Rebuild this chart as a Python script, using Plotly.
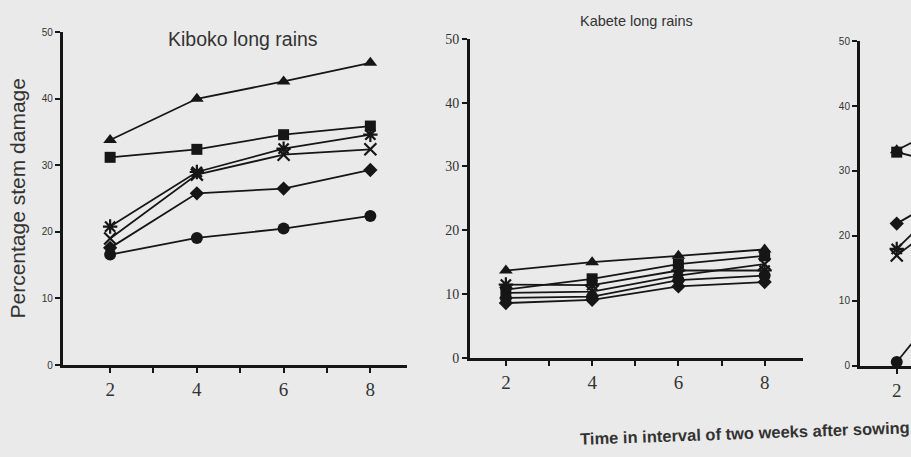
import plotly.graph_objects as go

weeks = [2, 4, 6, 8]
tick_vals = [2, 3, 4, 5, 6, 7, 8]
tick_text = ["2", "", "4", "", "6", "", "8"]
y_ticks = [0, 10, 20, 30, 40, 50]

# Kiboko long rains
kib_triangle = [33.8, 40.0, 42.6, 45.4]
kib_square = [31.2, 32.4, 34.6, 35.9]
kib_asterisk = [20.8, 29.0, 32.5, 34.6]
kib_x = [19.0, 28.6, 31.6, 32.4]
kib_diamond = [17.6, 25.8, 26.5, 29.3]
kib_circle = [16.6, 19.1, 20.5, 22.4]

# Kabete long rains
kab_triangle = [13.7, 15.0, 16.0, 17.0]
kab_square = [10.7, 12.4, 14.7, 16.0]
kab_asterisk = [11.5, 11.4, 13.7, 13.7]
kab_x = [10.2, 10.4, 12.9, 14.7]
kab_diamond = [8.6, 9.1, 11.2, 11.9]
kab_circle = [9.4, 9.6, 12.2, 12.9]

# Third (cropped) panel: only the first point is visible
p3_triangle = [33.2, 40.0]
p3_square = [32.9, 29.5]
p3_asterisk = [18.0, 31.0]
p3_x = [17.0, 27.0]
p3_diamond = [21.9, 29.6]
p3_circle = [0.6, 17.0]

INK = "#161616"
BG = "#eaeaea"

series = [
    ("triangle-up", 12, 0),
    ("square", 11, 0),
    ("asterisk-open", 12, 2.2),
    ("x-thin-open", 12, 2.2),
    ("diamond", 11, 0),
    ("circle", 12, 0),
]
panels = [
    ("x", "y", [kib_triangle, kib_square, kib_asterisk, kib_x, kib_diamond, kib_circle], weeks),
    ("x2", "y2", [kab_triangle, kab_square, kab_asterisk, kab_x, kab_diamond, kab_circle], weeks),
    ("x3", "y3", [p3_triangle, p3_square, p3_asterisk, p3_x, p3_diamond, p3_circle], weeks[:2]),
]

fig = go.Figure()
for xa, ya, data, xs in panels:
    for (sym, size, lw), vals in zip(series, data):
        fig.add_trace(go.Scatter(
            x=xs, y=vals, xaxis=xa, yaxis=ya, mode="lines+markers",
            line=dict(color=INK, width=1.8),
            marker=dict(symbol=sym, size=size, color=INK, line=dict(color=INK, width=lw)),
            showlegend=False, hoverinfo="skip", cliponaxis=False,
        ))

def xaxis(domain, rng, anchor, font_size):
    return dict(domain=domain, range=rng, anchor=anchor, showgrid=False, zeroline=False,
                showline=True, linecolor=INK, linewidth=3,
                tickvals=tick_vals, ticktext=tick_text, ticks="outside", ticklen=5,
                tickwidth=2, tickcolor=INK,
                tickfont=dict(family="Liberation Serif", size=font_size, color="#333"))

def yaxis(domain, anchor, font_size, family="Liberation Sans"):
    return dict(domain=domain, range=[0, 50], anchor=anchor, showgrid=False, zeroline=False,
                showline=True, linecolor=INK, linewidth=3,
                tickvals=y_ticks, ticks="outside", ticklen=5, tickwidth=2, tickcolor=INK,
                tickfont=dict(family=family, size=font_size, color="#333"))

fig.update_layout(
    width=911, height=457,
    margin=dict(l=0, r=0, t=0, b=0),
    paper_bgcolor=BG, plot_bgcolor=BG,
    xaxis=xaxis([0.069, 0.447], [0.91, 8.85], "y", 19),
    yaxis=yaxis([0.190, 0.943], "x", 10),
    xaxis2=xaxis([0.516, 0.881], [1.17, 8.88], "y2", 19),
    yaxis2=yaxis([0.206, 0.928], "x2", 14, "Liberation Serif"),
    xaxis3=xaxis([0.944, 1.0], [1.15, 2.33], "y3", 19),
    yaxis3=yaxis([0.188, 0.923], "x3", 10),
)

fig.add_annotation(text="Kiboko long rains", xref="paper", yref="paper", x=243/911, y=1-33/457,
                   showarrow=False, font=dict(family="Liberation Sans", size=19.5, color="#333"),
                   xanchor="center", yanchor="middle")
fig.add_annotation(text="Kabete long rains", xref="paper", yref="paper", x=636/911, y=1-14/457,
                   showarrow=False, font=dict(family="Liberation Sans", size=14.5, color="#333"),
                   xanchor="center", yanchor="middle")
fig.add_annotation(text="Percentage stem damage", xref="paper", yref="paper", x=18/911, y=1-198/457,
                   showarrow=False, textangle=-90,
                   font=dict(family="Liberation Sans", size=21, color="#333"),
                   xanchor="center", yanchor="middle")
fig.add_annotation(text="<b>Time in interval of two weeks after sowing</b>", xref="paper", yref="paper",
                   x=578/911, y=1-440/457, showarrow=False, textangle=-2,
                   font=dict(family="Liberation Sans", size=16.5, color="#333"),
                   xanchor="left", yanchor="middle")

fig.write_html("out.html", config={"displayModeBar": False},
               post_script="document.body.style.margin='0';")
